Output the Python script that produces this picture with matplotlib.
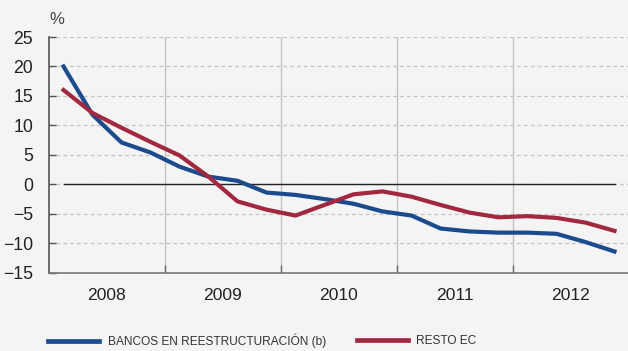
import matplotlib
matplotlib.use("Agg")
import matplotlib.pyplot as plt
from matplotlib import font_manager
from matplotlib.lines import Line2D
import numpy as np

plt.rcParams["font.family"] = ["Liberation Sans", "DejaVu Sans"]

# Quarterly growth rates, 2008Q1 - 2012Q4 (%)
YEARS = ["2008", "2009", "2010", "2011", "2012"]
BANCOS = [20.0, 11.8, 7.1, 5.4, 3.0, 1.3, 0.6, -1.4, -1.8, -2.5,
          -3.3, -4.6, -5.3, -7.5, -8.0, -8.2, -8.2, -8.4, -9.8, -11.4]
RESTO = [16.0, 12.1, 9.6, 7.2, 4.9, 1.3, -2.9, -4.3, -5.3, -3.5,
         -1.7, -1.2, -2.1, -3.5, -4.8, -5.6, -5.4, -5.7, -6.5, -7.9]
LABELS = ["BANCOS EN REESTRUCTURACIÓN (b)", "RESTO EC"]

BLUE = "#1b4a8d"
RED = "#a2283f"
BG = "#f4f4f4"
TXT = "#222222"
W, H = 628, 351

# condensed face for the legend if one is installed, otherwise shrink the regular one
installed = {f.name for f in font_manager.fontManager.ttflist}
narrow = [n for n in ["Liberation Sans Narrow", "DejaVu Sans Condensed"] if n in installed]
if narrow:
    leg_font = {"family": [narrow[0], "DejaVu Sans"], "size": 10.0}
else:
    leg_font = {"family": ["Liberation Sans", "DejaVu Sans"], "size": 8.6}
leg_px = leg_font["size"] * 100 / 72

fig = plt.figure(figsize=(W / 100, H / 100), dpi=100, facecolor=BG)
ax = fig.add_axes([49 / W, 1 - 272.7 / H, 580 / W, (272.7 - 37) / H])
ax.set_facecolor(BG)

x = np.arange(len(BANCOS)) + 0.5
ax.set_xlim(0, 20)
ax.set_ylim(-15, 25)

# dashed horizontal grid, solid vertical year separators
for yv in range(-15, 26, 5):
    ax.axhline(yv, color="#c4c4c4", linestyle=(0, (3, 2.5)), linewidth=0.9, zorder=1)
for xv in [4, 8, 12, 16]:
    ax.axvline(xv, color="#c4c4c4", linewidth=1.0, zorder=1)
ax.plot([0.5, 19.5], [0, 0], color="#222222", linewidth=1.0, zorder=2)

ax.plot(x, BANCOS, color=BLUE, linewidth=3.0, solid_joinstyle="round", zorder=3)
ax.plot(x, RESTO, color=RED, linewidth=3.0, solid_joinstyle="round", zorder=3)

for s in ["top", "right"]:
    ax.spines[s].set_visible(False)
ax.spines["left"].set_color("#555555")
ax.spines["bottom"].set_color("#777777")
ax.spines["left"].set_linewidth(1.2)
ax.spines["bottom"].set_linewidth(1.2)

ax.set_yticks(range(-15, 26, 5))
ax.tick_params(axis="y", direction="in", length=5, width=1.0, color="#555555",
               labelsize=12.7, labelcolor=TXT, pad=11.5)
ax.set_xticks([4, 8, 12, 16])
ax.set_xticklabels([])
ax.set_xticks([2, 6, 10, 14, 18], minor=True)
ax.set_xticklabels(YEARS, minor=True)
ax.tick_params(axis="x", which="major", direction="in", length=6, width=1.0,
               color="#666666")
ax.tick_params(axis="x", which="minor", length=0, labelsize=12.6,
               labelcolor=TXT, pad=11)

fig.text(49 / W, 1 - 19 / H, "%", fontsize=12, color="#444444",
         ha="left", va="center")

# one legend per series so each entry sits at its own x position
for label, color, x0 in [(LABELS[0], BLUE, 48), (LABELS[1], RED, 357)]:
    fig.legend([Line2D([], [], color=color, linewidth=3.4)], [label],
               loc="center left", bbox_to_anchor=(x0 / W, 1 - 341 / H),
               frameon=False, prop=leg_font, labelcolor="#333333",
               borderpad=0, borderaxespad=0,
               handlelength=51 / leg_px, handletextpad=8.5 / leg_px)

fig.savefig("out.png", dpi=100, facecolor=BG)
